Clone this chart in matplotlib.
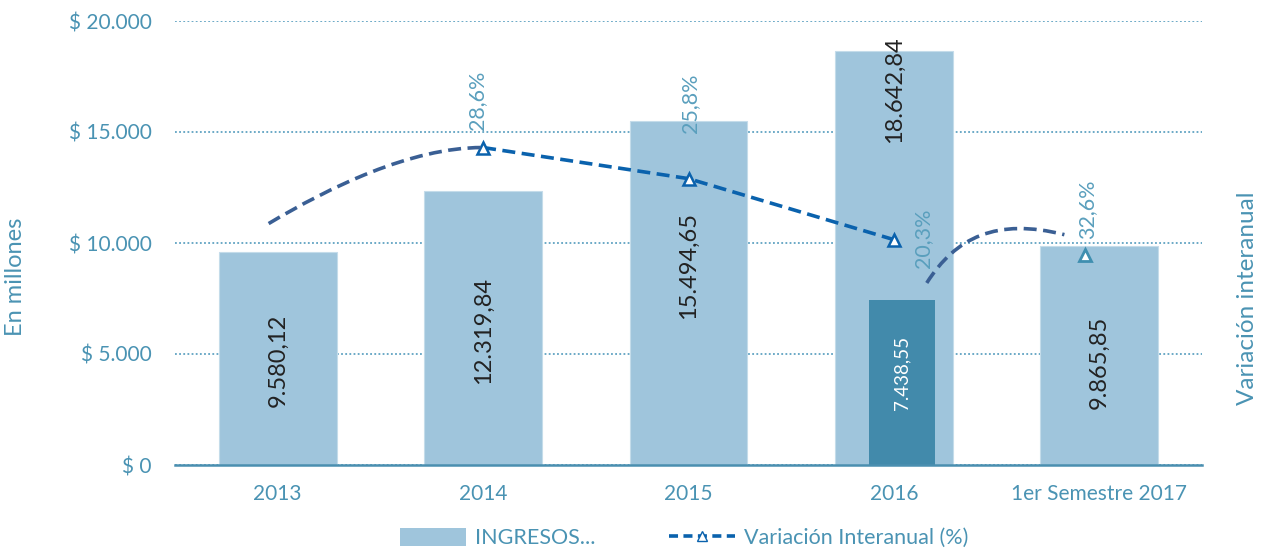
import matplotlib
matplotlib.use("Agg")
import matplotlib.pyplot as plt
from matplotlib.path import Path
from matplotlib.patches import PathPatch
from matplotlib.lines import Line2D
from matplotlib.patches import Patch
import numpy as np

plt.rcParams['font.family'] = ['Lato', 'DejaVu Sans']

# ---- data ----
categories = ["2013", "2014", "2015", "2016", "1er Semestre 2017"]
ingresos = [9580.12, 12319.84, 15494.65, 18642.84, 9865.85]
ingresos_labels = ["9.580,12", "12.319,84", "15.494,65", "18.642,84", "9.865,85"]
semestre_2016 = 7438.55
semestre_2016_label = "7.438,55"
var_x = [1, 2, 3]
var_pct = [28.6, 25.8, 20.3]
var_labels = ["28,6%", "25,8%", "20,3%", "32,6%"]
marker_2017_pct = 18.9   # where the 2017 marker is drawn in the source chart
yticks = [0, 5000, 10000, 15000, 20000]
ytick_labels = ["$ 0", "$ 5.000", "$ 10.000", "$ 15.000", "$ 20.000"]

# ---- style ----
TEAL = "#4a93b3"
LIGHT = "#9fc5dc"
DARK = "#428aab"
LINE = "#0a62ad"
ARC = "#3a5f94"
DASH = (0, (3.6, 1.8))

W, H = 1271, 552
fig = plt.figure(figsize=(W / 100, H / 100), dpi=100)
ax = fig.add_axes([175 / W, 1 - 465 / H, (1202 - 175) / W, (465 - 21) / H])
x = np.arange(len(categories))

ax.bar(x, ingresos, width=0.573, color=LIGHT, edgecolor="#c4dcea", linewidth=0.8, zorder=2)
ax.bar(3 + 0.04, semestre_2016, width=0.325, color=DARK, zorder=3)

ax.set_xlim(-0.5, 4.5)
ax.set_ylim(0, 20000)
ax.set_yticks(yticks)
ax.set_yticklabels(ytick_labels)
ax.set_xticks(x)
ax.set_xticklabels(categories)
ax.tick_params(axis="both", length=0, labelsize=15, labelcolor=TEAL)
ax.tick_params(axis="y", pad=17)
ax.tick_params(axis="x", pad=14)
ax.grid(axis="y", color="#5fa2c2", linestyle=(0, (1, 1.3)), linewidth=1.3, zorder=0)
ax.set_axisbelow(True)
for s in ["top", "right", "left"]:
    ax.spines[s].set_visible(False)
ax.spines["bottom"].set_color("#4a8fb0")
ax.spines["bottom"].set_linewidth(1.8)
ax.spines["bottom"].set_zorder(5)

# bar value labels
label_frac = [0.49, 0.49, 0.58, 0.906, 0.47]
for i, (v, t, f) in enumerate(zip(ingresos, ingresos_labels, label_frac)):
    ax.text(i, v * f, t, rotation=90, ha="center", va="center", fontsize=17,
            color="#222222", zorder=6)
ax.text(3 + 0.04, semestre_2016 * 0.557, semestre_2016_label, rotation=90,
        ha="center", va="center", fontsize=13.5, color="white", zorder=6)

# secondary axis
ax2 = ax.twinx()
ax2.set_ylim(0, 40)
ax2.set_xlim(-0.5, 4.5)
ax2.axis("off")
ax2.plot(var_x, var_pct, color=LINE, linestyle=DASH, linewidth=2.6,
         marker="^", markersize=9, markerfacecolor="white", markeredgecolor=LINE,
         markeredgewidth=1.8, zorder=4)
ax2.plot([4 - 0.07], [marker_2017_pct], linestyle="none", marker="^", markersize=9,
         markerfacecolor="white", markeredgecolor="#3f8fb0", markeredgewidth=2)

# decorative smoothed arcs
arc1 = Path([(-0.044, 21.75), (0.25, 25.0), (0.65, 28.6), (0.995, 28.6)],
            [Path.MOVETO, Path.CURVE4, Path.CURVE4, Path.CURVE4])
arc2 = Path([(3.16, 16.4), (3.3, 20.5), (3.5, 22.3), (3.83, 20.75)],
            [Path.MOVETO, Path.CURVE4, Path.CURVE4, Path.CURVE4])
for p in (arc1, arc2):
    ax2.add_patch(PathPatch(p, facecolor="none", edgecolor=ARC, linewidth=2.6,
                            linestyle=DASH, zorder=4))

# percentage labels
pct_label_x = [1 - 0.03, 2 + 0.01, 3 + 0.14, 4 - 0.06]
pct_label_y = [32.85, 32.6, 20.44, 23.0]
for xx, yy, t in zip(pct_label_x, pct_label_y, var_labels):
    ax2.text(xx, yy, t, rotation=90, ha="center", va="center", fontsize=15.5,
             color="#5a9fbd", zorder=6)

# axis titles
fig.text(16 / W, 1 - 277 / H, "En millones", rotation=90, ha="center", va="center",
         fontsize=17, color=TEAL)
fig.text(1248 / W, 1 - 298 / H, "Variación interanual", rotation=90, ha="center",
         va="center", fontsize=17.5, color=TEAL)

# legend
handles = [Patch(facecolor=LIGHT, edgecolor="none"),
           Line2D([0], [0], color=LINE, linestyle=(0, (2.5, 1.5)), linewidth=2.6,
                  marker="^", markersize=7, markerfacecolor="white",
                  markeredgecolor=LINE)]
leg = fig.legend(handles, ["INGRESOS...", "Variación Interanual (%)"],
                 loc="center", bbox_to_anchor=(684 / W, 1 - 538 / H), ncol=2,
                 frameon=False, fontsize=15.5, labelcolor=TEAL, handlelength=3.1,
                 handleheight=0.9, columnspacing=3.4, handletextpad=0.4)

fig.savefig("out.png", dpi=100)
